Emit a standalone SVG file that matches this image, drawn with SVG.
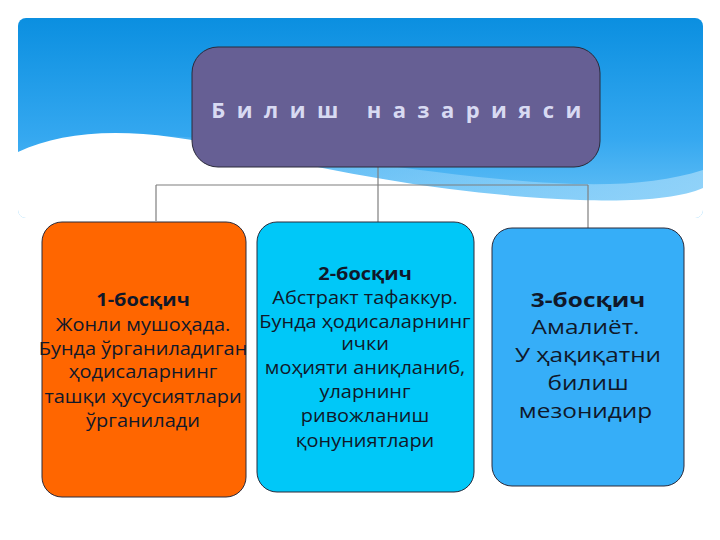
<svg xmlns="http://www.w3.org/2000/svg" width="720" height="540" viewBox="0 0 720 540">
<defs>
<linearGradient id="sky" x1="0" y1="0" x2="0" y2="1">
<stop offset="0" stop-color="#0B8FE0"/>
<stop offset="0.6" stop-color="#35A8F0"/>
<stop offset="1" stop-color="#6CC4F7"/>
</linearGradient>
<linearGradient id="sheen" x1="0" y1="0" x2="1" y2="0">
<stop offset="0" stop-color="#9ED8FA" stop-opacity="0"/>
<stop offset="1" stop-color="#9ED8FA" stop-opacity="0.8"/>
</linearGradient>
<clipPath id="bandclip"><rect x="18" y="18" width="685" height="200" rx="8"/></clipPath>
<style>
.box{stroke:#2a2a3a;stroke-width:1}
.conn{stroke:#7f7f7f;stroke-width:1.2;fill:none}
.t{font-family:"Open Sans","Noto Sans","DejaVu Sans",sans-serif;text-anchor:middle;fill:#10182a}
.b{font-weight:bold}
</style>
</defs>
<rect width="720" height="540" fill="#ffffff"/>
<g id="background" clip-path="url(#bandclip)">
<rect x="18" y="18" width="685" height="200" fill="url(#sky)"/>
<path d="M18,160 C140,110 260,150 420,170 C560,188 640,190 703,170 L703,218 L18,218 Z" fill="url(#sheen)"/>
<path d="M18,152 C70,128 140,126 240,150 C360,178 470,196 580,200 C640,202 680,198 703,188 L703,218 L18,218 Z" fill="#ffffff"/>
</g>
<g id="connectors">
<path class="conn" d="M378,165 V222"/>
<path class="conn" d="M156,185 H588"/>
<path class="conn" d="M156,185 V221"/>
<path class="conn" d="M588,185 V230"/>
</g>
<g id="title">
<rect class="box" x="192" y="47" width="408" height="120" rx="26" fill="#665F94" stroke="#1c2444"/>
<text x="402" y="118" font-family="'Open Sans','Noto Sans','DejaVu Sans',sans-serif" font-size="22" font-weight="bold" fill="#D8DAF2" text-anchor="middle" letter-spacing="11.4">Билиш  назарияси</text>
</g>
<g id="stage1">
<rect class="box" x="42" y="222" width="204" height="275" rx="20" fill="#FF6600"/>
<text class="t" font-size="17.5" transform="translate(143,0) scale(1.14,1)"><tspan class="b" x="0" y="306">1-босқич</tspan><tspan x="0" y="331">Жонли мушоҳада.</tspan><tspan x="0" y="355">Бунда ўрганиладиган</tspan><tspan x="0" y="378">ҳодисаларнинг</tspan><tspan x="0" y="403">ташқи ҳусусиятлари</tspan><tspan x="0" y="427">ўрганилади</tspan></text>
</g>
<g id="stage2">
<rect class="box" x="257" y="222" width="217" height="270" rx="20" fill="#00C8F8"/>
<text class="t" font-size="17.5" transform="translate(365,0) scale(1.14,1)"><tspan class="b" x="0" y="280">2-босқич</tspan><tspan x="0" y="304">Абстракт тафаккур.</tspan><tspan x="0" y="328">Бунда ҳодисаларнинг</tspan><tspan x="0" y="350">ички</tspan><tspan x="0" y="374">моҳияти аниқланиб,</tspan><tspan x="0" y="398">уларнинг</tspan><tspan x="0" y="422">ривожланиш</tspan><tspan x="0" y="447">қонуниятлари</tspan></text>
</g>
<g id="stage3">
<rect class="box" x="492" y="228" width="192" height="258" rx="20" fill="#36AEF8"/>
<text class="t" font-size="20" transform="translate(588,0) scale(1.22,1)"><tspan class="b" x="0" y="307">3-босқич</tspan><tspan x="-2" y="334">Амалиёт.</tspan><tspan x="0" y="362">У ҳақиқатни</tspan><tspan x="0" y="390">билиш</tspan><tspan x="-2" y="418">мезонидир</tspan></text>
</g>
</svg>
